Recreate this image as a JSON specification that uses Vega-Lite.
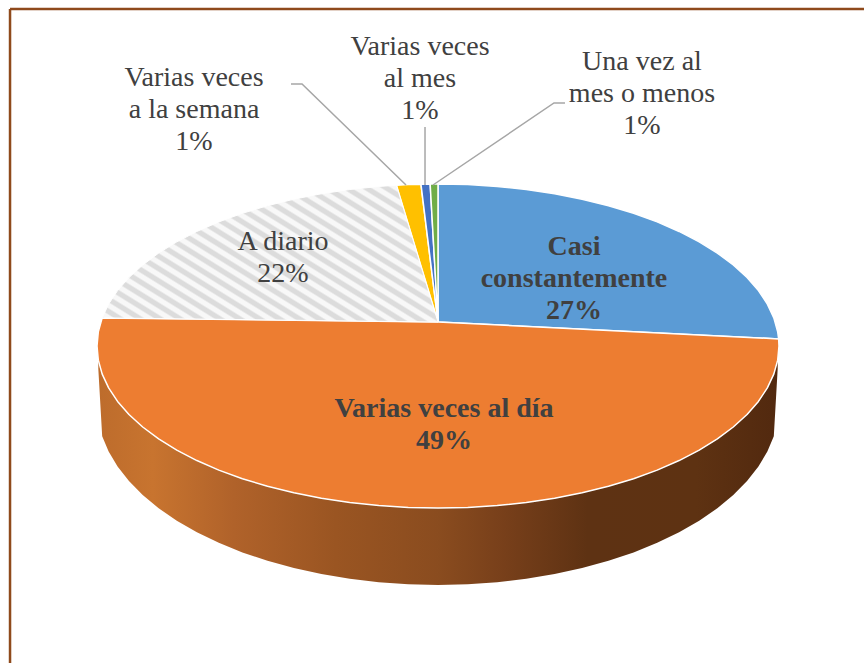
{"$schema":"https://vega.github.io/schema/vega-lite/v6.json","width":864,"height":663,"padding":0,"autosize":{"type":"none"},"background":"white","view":{"stroke":null},
"datasets":{
"rebanadas":[
{"s":"Casi constantemente","o":0,"x":0,"y":0.148},{"s":"Casi constantemente","o":1,"x":0,"y":1},{"s":"Casi constantemente","o":2,"x":0.0872,"y":0.9962},{"s":"Casi constantemente","o":3,"x":0.1736,"y":0.9848},{"s":"Casi constantemente","o":4,"x":0.2588,"y":0.9659},{"s":"Casi constantemente","o":5,"x":0.342,"y":0.9397},{"s":"Casi constantemente","o":6,"x":0.4226,"y":0.9063},{"s":"Casi constantemente","o":7,"x":0.5,"y":0.866},{"s":"Casi constantemente","o":8,"x":0.5736,"y":0.8192},{"s":"Casi constantemente","o":9,"x":0.6428,"y":0.766},{"s":"Casi constantemente","o":10,"x":0.7071,"y":0.7071},{"s":"Casi constantemente","o":11,"x":0.766,"y":0.6428},{"s":"Casi constantemente","o":12,"x":0.8192,"y":0.5736},{"s":"Casi constantemente","o":13,"x":0.866,"y":0.5},{"s":"Casi constantemente","o":14,"x":0.9063,"y":0.4226},{"s":"Casi constantemente","o":15,"x":0.9397,"y":0.342},{"s":"Casi constantemente","o":16,"x":0.9659,"y":0.2588},{"s":"Casi constantemente","o":17,"x":0.9848,"y":0.1736},{"s":"Casi constantemente","o":18,"x":0.9962,"y":0.0872},{"s":"Casi constantemente","o":19,"x":0.999,"y":0.0436},{"s":"Casi constantemente","o":20,"x":0,"y":0.148},
{"s":"Varias veces al día","o":0,"x":0,"y":0.148},{"s":"Varias veces al día","o":1,"x":0.999,"y":0.0436},{"s":"Varias veces al día","o":2,"x":1,"y":0},{"s":"Varias veces al día","o":3,"x":0.9962,"y":-0.0872},{"s":"Varias veces al día","o":4,"x":0.9848,"y":-0.1736},{"s":"Varias veces al día","o":5,"x":0.9659,"y":-0.2588},{"s":"Varias veces al día","o":6,"x":0.9397,"y":-0.342},{"s":"Varias veces al día","o":7,"x":0.9063,"y":-0.4226},{"s":"Varias veces al día","o":8,"x":0.866,"y":-0.5},{"s":"Varias veces al día","o":9,"x":0.8192,"y":-0.5736},{"s":"Varias veces al día","o":10,"x":0.766,"y":-0.6428},{"s":"Varias veces al día","o":11,"x":0.7071,"y":-0.7071},{"s":"Varias veces al día","o":12,"x":0.6428,"y":-0.766},{"s":"Varias veces al día","o":13,"x":0.5736,"y":-0.8192},{"s":"Varias veces al día","o":14,"x":0.5,"y":-0.866},{"s":"Varias veces al día","o":15,"x":0.4226,"y":-0.9063},{"s":"Varias veces al día","o":16,"x":0.342,"y":-0.9397},{"s":"Varias veces al día","o":17,"x":0.2588,"y":-0.9659},{"s":"Varias veces al día","o":18,"x":0.1736,"y":-0.9848},{"s":"Varias veces al día","o":19,"x":0.0872,"y":-0.9962},{"s":"Varias veces al día","o":20,"x":0,"y":-1},{"s":"Varias veces al día","o":21,"x":-0.0872,"y":-0.9962},{"s":"Varias veces al día","o":22,"x":-0.1736,"y":-0.9848},{"s":"Varias veces al día","o":23,"x":-0.2588,"y":-0.9659},{"s":"Varias veces al día","o":24,"x":-0.342,"y":-0.9397},{"s":"Varias veces al día","o":25,"x":-0.4226,"y":-0.9063},{"s":"Varias veces al día","o":26,"x":-0.5,"y":-0.866},{"s":"Varias veces al día","o":27,"x":-0.5736,"y":-0.8192},{"s":"Varias veces al día","o":28,"x":-0.6428,"y":-0.766},{"s":"Varias veces al día","o":29,"x":-0.7071,"y":-0.7071},{"s":"Varias veces al día","o":30,"x":-0.766,"y":-0.6428},{"s":"Varias veces al día","o":31,"x":-0.8192,"y":-0.5736},{"s":"Varias veces al día","o":32,"x":-0.866,"y":-0.5},{"s":"Varias veces al día","o":33,"x":-0.9063,"y":-0.4226},{"s":"Varias veces al día","o":34,"x":-0.9397,"y":-0.342},{"s":"Varias veces al día","o":35,"x":-0.9659,"y":-0.2588},{"s":"Varias veces al día","o":36,"x":-0.9848,"y":-0.1736},{"s":"Varias veces al día","o":37,"x":-0.9962,"y":-0.0872},{"s":"Varias veces al día","o":38,"x":-1,"y":0},{"s":"Varias veces al día","o":39,"x":-0.9962,"y":0.0872},{"s":"Varias veces al día","o":40,"x":-0.9848,"y":0.1736},{"s":"Varias veces al día","o":41,"x":0,"y":0.148},
{"s":"A diario","o":0,"x":0,"y":0.148},{"s":"A diario","o":1,"x":-0.9848,"y":0.1736},{"s":"A diario","o":2,"x":-0.9659,"y":0.2588},{"s":"A diario","o":3,"x":-0.9397,"y":0.342},{"s":"A diario","o":4,"x":-0.9063,"y":0.4226},{"s":"A diario","o":5,"x":-0.866,"y":0.5},{"s":"A diario","o":6,"x":-0.8192,"y":0.5736},{"s":"A diario","o":7,"x":-0.766,"y":0.6428},{"s":"A diario","o":8,"x":-0.7071,"y":0.7071},{"s":"A diario","o":9,"x":-0.6428,"y":0.766},{"s":"A diario","o":10,"x":-0.5736,"y":0.8192},{"s":"A diario","o":11,"x":-0.5,"y":0.866},{"s":"A diario","o":12,"x":-0.4226,"y":0.9063},{"s":"A diario","o":13,"x":-0.342,"y":0.9397},{"s":"A diario","o":14,"x":-0.2588,"y":0.9659},{"s":"A diario","o":15,"x":-0.1736,"y":0.9848},{"s":"A diario","o":16,"x":-0.1219,"y":0.9925},{"s":"A diario","o":17,"x":0,"y":0.148},
{"s":"Varias veces a la semana","o":0,"x":0,"y":0.148},{"s":"Varias veces a la semana","o":1,"x":-0.1219,"y":0.9925},{"s":"Varias veces a la semana","o":2,"x":-0.0872,"y":0.9962},{"s":"Varias veces a la semana","o":3,"x":-0.05,"y":0.9987},{"s":"Varias veces a la semana","o":4,"x":0,"y":0.148},
{"s":"Varias veces al mes","o":0,"x":0,"y":0.148},{"s":"Varias veces al mes","o":1,"x":-0.05,"y":0.9987},{"s":"Varias veces al mes","o":2,"x":-0.023,"y":0.9997},{"s":"Varias veces al mes","o":3,"x":0,"y":0.148},
{"s":"Una vez al mes o menos","o":0,"x":0,"y":0.148},{"s":"Una vez al mes o menos","o":1,"x":-0.023,"y":0.9997},{"s":"Una vez al mes o menos","o":2,"x":0,"y":1},{"s":"Una vez al mes o menos","o":3,"x":0,"y":0.148}
],
"pared":[
{"x":-0.9962,"y":-0.0872,"y2":-0.14},{"x":-0.9848,"y":-0.1736,"y2":-0.5569},{"x":-0.9659,"y":-0.2588,"y2":-0.6515},{"x":-0.9397,"y":-0.342,"y2":-0.744},{"x":-0.9063,"y":-0.4226,"y2":-0.8335},{"x":-0.866,"y":-0.5,"y2":-0.9195},{"x":-0.8192,"y":-0.5736,"y2":-1.0013},{"x":-0.766,"y":-0.6428,"y2":-1.0782},{"x":-0.7071,"y":-0.7071,"y2":-1.1496},{"x":-0.6428,"y":-0.766,"y2":-1.215},{"x":-0.5736,"y":-0.8192,"y2":-1.2741},{"x":-0.5,"y":-0.866,"y2":-1.3261},{"x":-0.4226,"y":-0.9063,"y2":-1.3709},{"x":-0.342,"y":-0.9397,"y2":-1.408},{"x":-0.2588,"y":-0.9659,"y2":-1.4371},{"x":-0.1736,"y":-0.9848,"y2":-1.4581},{"x":-0.0872,"y":-0.9962,"y2":-1.4708},{"x":0,"y":-1,"y2":-1.475},{"x":0.0872,"y":-0.9962,"y2":-1.4708},{"x":0.1736,"y":-0.9848,"y2":-1.4581},{"x":0.2588,"y":-0.9659,"y2":-1.4371},{"x":0.342,"y":-0.9397,"y2":-1.408},{"x":0.4226,"y":-0.9063,"y2":-1.3709},{"x":0.5,"y":-0.866,"y2":-1.3261},{"x":0.5736,"y":-0.8192,"y2":-1.2741},{"x":0.6428,"y":-0.766,"y2":-1.215},{"x":0.7071,"y":-0.7071,"y2":-1.1496},{"x":0.766,"y":-0.6428,"y2":-1.0782},{"x":0.8192,"y":-0.5736,"y2":-1.0013},{"x":0.866,"y":-0.5,"y2":-0.9195},{"x":0.9063,"y":-0.4226,"y2":-0.8335},{"x":0.9397,"y":-0.342,"y2":-0.744},{"x":0.9659,"y":-0.2588,"y2":-0.6515},{"x":0.9848,"y":-0.1736,"y2":-0.5569},{"x":0.9962,"y":-0.0872,"y2":-0.14}
],
"guias":[
{"g":"a","o":0,"x":-0.4311,"y":1.6173},{"g":"a","o":1,"x":-0.3988,"y":1.6173},{"g":"a","o":2,"x":-0.0938,"y":0.9938},
{"g":"b","o":0,"x":-0.0381,"y":1.3519},{"g":"b","o":1,"x":-0.0381,"y":0.9938},
{"g":"c","o":0,"x":0.3724,"y":1.5},{"g":"c","o":1,"x":0.3402,"y":1.5},{"g":"c","o":2,"x":-0.0147,"y":0.9938}
],
"marco":[
{"x":-1.2551,"y":2.0802,"x2":1.2493,"y2":2.0802},
{"x":-1.2551,"y":2.0802,"x2":-1.2551,"y2":-1.9568}
],
"etiquetas":[
{"categoria":"Casi constantemente","porcentaje":27,"etiqueta":"Casi\nconstantemente\n27%","destacado":true,"x":0.3988,"y":0.6111},
{"categoria":"Varias veces al día","porcentaje":49,"etiqueta":"Varias veces al día\n49%","destacado":true,"x":0.0176,"y":-0.3889},
{"categoria":"A diario","porcentaje":22,"etiqueta":"A diario\n22%","destacado":false,"x":-0.4545,"y":0.642},
{"categoria":"Varias veces a la semana","porcentaje":1,"etiqueta":"Varias veces\na la semana\n1%","destacado":false,"x":-0.7155,"y":1.6543},
{"categoria":"Varias veces al mes","porcentaje":1,"etiqueta":"Varias veces\nal mes\n1%","destacado":false,"x":-0.0528,"y":1.8456},
{"categoria":"Una vez al mes o menos","porcentaje":1,"etiqueta":"Una vez al\nmes o menos\n1%","destacado":false,"x":0.5982,"y":1.7531}
]
},
"encoding":{
"x":{"field":"x","type":"quantitative","axis":null,"scale":{"domain":[-1.2845,1.2493],"nice":false,"zero":false}},
"y":{"field":"y","type":"quantitative","axis":null,"scale":{"domain":[-1.9568,2.1358],"nice":false,"zero":false}}
},
"layer":[
{"data":{"name":"pared"},"mark":{"type":"area","orient":"vertical","fill":{"gradient":"linear","x1":0,"y1":0,"x2":1,"y2":0,"stops":[{"offset":0,"color":"#bd6c2c"},{"offset":0.08,"color":"#c8742f"},{"offset":0.2,"color":"#b0622a"},{"offset":0.35,"color":"#9a5522"},{"offset":0.5,"color":"#8a4c1f"},{"offset":0.6,"color":"#773f1a"},{"offset":0.72,"color":"#5e3213"},{"offset":0.88,"color":"#5e3212"},{"offset":1,"color":"#52290f"}]}},"encoding":{"y2":{"field":"y2"}}},
{"data":{"name":"rebanadas"},"transform":[{"filter":"datum.s !== 'A diario'"}],"mark":{"type":"line","stroke":"#ffffff","strokeWidth":1.5,"strokeJoin":"round"},"encoding":{"order":{"field":"o","type":"quantitative"},"detail":{"field":"s"},"fill":{"field":"s","type":"nominal","legend":null,"scale":{"domain":["Casi constantemente","Varias veces al día","Varias veces a la semana","Varias veces al mes","Una vez al mes o menos"],"range":["#5b9bd5","#ed7d31","#ffc000","#4472c4","#70ad47"]}}}},
{"data":{"name":"rebanadas"},"transform":[{"filter":"datum.s === 'A diario'"}],"mark":{"type":"line","stroke":"#ffffff","strokeWidth":1,"fill":{"gradient":"linear","x1":0,"y1":1,"x2":1.1575,"y2":0.2395,"stops":[{"offset":0,"color":"#dcdcdc"},{"offset":0.0125,"color":"#dcdcdc"},{"offset":0.0179,"color":"#f8f8f8"},{"offset":0.0304,"color":"#f8f8f8"},{"offset":0.0357,"color":"#dcdcdc"},{"offset":0.0482,"color":"#dcdcdc"},{"offset":0.0536,"color":"#f8f8f8"},{"offset":0.0661,"color":"#f8f8f8"},{"offset":0.0714,"color":"#dcdcdc"},{"offset":0.0839,"color":"#dcdcdc"},{"offset":0.0893,"color":"#f8f8f8"},{"offset":0.1018,"color":"#f8f8f8"},{"offset":0.1071,"color":"#dcdcdc"},{"offset":0.1196,"color":"#dcdcdc"},{"offset":0.125,"color":"#f8f8f8"},{"offset":0.1375,"color":"#f8f8f8"},{"offset":0.1429,"color":"#dcdcdc"},{"offset":0.1554,"color":"#dcdcdc"},{"offset":0.1608,"color":"#f8f8f8"},{"offset":0.1733,"color":"#f8f8f8"},{"offset":0.1786,"color":"#dcdcdc"},{"offset":0.1911,"color":"#dcdcdc"},{"offset":0.1965,"color":"#f8f8f8"},{"offset":0.209,"color":"#f8f8f8"},{"offset":0.2143,"color":"#dcdcdc"},{"offset":0.2268,"color":"#dcdcdc"},{"offset":0.2322,"color":"#f8f8f8"},{"offset":0.2447,"color":"#f8f8f8"},{"offset":0.25,"color":"#dcdcdc"},{"offset":0.2625,"color":"#dcdcdc"},{"offset":0.2679,"color":"#f8f8f8"},{"offset":0.2804,"color":"#f8f8f8"},{"offset":0.2857,"color":"#dcdcdc"},{"offset":0.2982,"color":"#dcdcdc"},{"offset":0.3036,"color":"#f8f8f8"},{"offset":0.3161,"color":"#f8f8f8"},{"offset":0.3214,"color":"#dcdcdc"},{"offset":0.3339,"color":"#dcdcdc"},{"offset":0.3393,"color":"#f8f8f8"},{"offset":0.3518,"color":"#f8f8f8"},{"offset":0.3571,"color":"#dcdcdc"},{"offset":0.3696,"color":"#dcdcdc"},{"offset":0.375,"color":"#f8f8f8"},{"offset":0.3875,"color":"#f8f8f8"},{"offset":0.3929,"color":"#dcdcdc"},{"offset":0.4054,"color":"#dcdcdc"},{"offset":0.4108,"color":"#f8f8f8"},{"offset":0.4233,"color":"#f8f8f8"},{"offset":0.4286,"color":"#dcdcdc"},{"offset":0.4411,"color":"#dcdcdc"},{"offset":0.4465,"color":"#f8f8f8"},{"offset":0.459,"color":"#f8f8f8"},{"offset":0.4643,"color":"#dcdcdc"},{"offset":0.4768,"color":"#dcdcdc"},{"offset":0.4822,"color":"#f8f8f8"},{"offset":0.4947,"color":"#f8f8f8"},{"offset":0.5,"color":"#dcdcdc"},{"offset":0.5125,"color":"#dcdcdc"},{"offset":0.5179,"color":"#f8f8f8"},{"offset":0.5304,"color":"#f8f8f8"},{"offset":0.5357,"color":"#dcdcdc"},{"offset":0.5482,"color":"#dcdcdc"},{"offset":0.5536,"color":"#f8f8f8"},{"offset":0.5661,"color":"#f8f8f8"},{"offset":0.5714,"color":"#dcdcdc"},{"offset":0.5839,"color":"#dcdcdc"},{"offset":0.5893,"color":"#f8f8f8"},{"offset":0.6018,"color":"#f8f8f8"},{"offset":0.6071,"color":"#dcdcdc"},{"offset":0.6196,"color":"#dcdcdc"},{"offset":0.625,"color":"#f8f8f8"},{"offset":0.6375,"color":"#f8f8f8"},{"offset":0.6429,"color":"#dcdcdc"},{"offset":0.6554,"color":"#dcdcdc"},{"offset":0.6608,"color":"#f8f8f8"},{"offset":0.6733,"color":"#f8f8f8"},{"offset":0.6786,"color":"#dcdcdc"},{"offset":0.6911,"color":"#dcdcdc"},{"offset":0.6965,"color":"#f8f8f8"},{"offset":0.709,"color":"#f8f8f8"},{"offset":0.7143,"color":"#dcdcdc"},{"offset":0.7268,"color":"#dcdcdc"},{"offset":0.7322,"color":"#f8f8f8"},{"offset":0.7447,"color":"#f8f8f8"},{"offset":0.75,"color":"#dcdcdc"},{"offset":0.7625,"color":"#dcdcdc"},{"offset":0.7679,"color":"#f8f8f8"},{"offset":0.7804,"color":"#f8f8f8"},{"offset":0.7857,"color":"#dcdcdc"},{"offset":0.7982,"color":"#dcdcdc"},{"offset":0.8036,"color":"#f8f8f8"},{"offset":0.8161,"color":"#f8f8f8"},{"offset":0.8214,"color":"#dcdcdc"},{"offset":0.8339,"color":"#dcdcdc"},{"offset":0.8393,"color":"#f8f8f8"},{"offset":0.8518,"color":"#f8f8f8"},{"offset":0.8571,"color":"#dcdcdc"},{"offset":0.8696,"color":"#dcdcdc"},{"offset":0.875,"color":"#f8f8f8"},{"offset":0.8875,"color":"#f8f8f8"},{"offset":0.8929,"color":"#dcdcdc"},{"offset":0.9054,"color":"#dcdcdc"},{"offset":0.9108,"color":"#f8f8f8"},{"offset":0.9233,"color":"#f8f8f8"},{"offset":0.9286,"color":"#dcdcdc"},{"offset":0.9411,"color":"#dcdcdc"},{"offset":0.9465,"color":"#f8f8f8"},{"offset":0.959,"color":"#f8f8f8"},{"offset":0.9643,"color":"#dcdcdc"},{"offset":0.9768,"color":"#dcdcdc"},{"offset":0.9822,"color":"#f8f8f8"},{"offset":1,"color":"#f8f8f8"}]}},"encoding":{"order":{"field":"o","type":"quantitative"}}},
{"data":{"name":"guias"},"mark":{"type":"line","stroke":"#a6a6a6","strokeWidth":1.5},"encoding":{"order":{"field":"o","type":"quantitative"},"detail":{"field":"g"}}},
{"data":{"name":"marco"},"mark":{"type":"rule","stroke":"#8f4a1c","strokeWidth":2.5},"encoding":{"x2":{"field":"x2"},"y2":{"field":"y2"}}},
{"data":{"name":"etiquetas"},"transform":[{"filter":"!datum.destacado"}],"mark":{"type":"text","font":"Liberation Serif","fontSize":28,"lineHeight":32,"lineBreak":"\n","align":"center","baseline":"middle","fill":"#404040"},"encoding":{"text":{"field":"etiqueta"}}},
{"data":{"name":"etiquetas"},"transform":[{"filter":"datum.destacado"}],"mark":{"type":"text","font":"Liberation Serif","fontSize":28,"fontWeight":"bold","lineHeight":32,"lineBreak":"\n","align":"center","baseline":"middle","fill":"#404040"},"encoding":{"text":{"field":"etiqueta"}}}
]}
